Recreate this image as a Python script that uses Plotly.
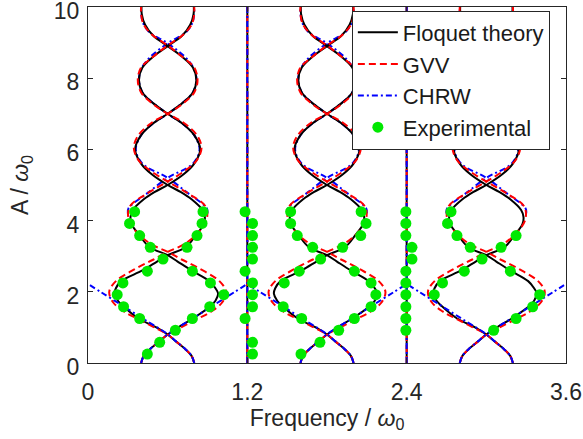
import plotly.graph_objects as go

# ---------------- data ----------------
centers = [0.6, 1.8, 3.0]          # centres of the multiphoton resonance patterns
harmonics = [1.2, 2.4]             # straight (vertical) resonance lines

# Floquet theory: signed half-width of the two crossing branches vs amplitude A
floq_amp = [0, 0.2, 0.4, 0.6, 0.8, 1.0, 1.25, 1.58, 1.75, 1.95, 2.1, 2.3, 2.6, 2.85, 3.03,
            3.25, 3.6, 3.9, 4.1, 4.3, 4.6, 4.8, 5.0, 5.3, 5.6, 6.0, 6.4, 6.7, 7.0,
            7.3, 7.6, 7.95, 8.3, 8.6, 8.9, 9.2, 9.5, 9.8, 10.0]
floq_right = [-0.2, -0.18, -0.13, -0.065, 0, 0.08, 0.19, 0.317, 0.36, 0.38, 0.36, 0.315, 0.18, 0.075, 0,
              -0.135, -0.215, -0.272, -0.28, -0.262, -0.18, -0.1, 0, 0.12, 0.2, 0.245, 0.2, 0.12, 0,
              -0.11, -0.19, -0.216, -0.19, -0.11, 0, 0.11, 0.17, 0.195, 0.197]
floq_left = [-0.2, -0.18, -0.13, -0.065, 0, 0.085, 0.22, 0.33, 0.375, 0.4, 0.39, 0.35, 0.19, 0.08, 0,
             -0.135, -0.215, -0.272, -0.28, -0.262, -0.18, -0.1, 0, 0.12, 0.2, 0.245, 0.2, 0.12, 0,
             -0.11, -0.19, -0.216, -0.19, -0.11, 0, 0.11, 0.17, 0.195, 0.197]

# GVV
gvv_amp = [0, 0.2, 0.4, 0.6, 0.8, 1.0, 1.25, 1.45, 1.7, 2.0, 2.3, 2.65, 2.9, 3.12,
           3.35, 3.7, 4.05, 4.4, 4.75, 5.1, 5.4, 5.7, 6.05, 6.4, 6.75, 7.0,
           7.3, 7.6, 7.95, 8.3, 8.6, 8.92, 9.2, 9.5, 9.8, 10.0]
gvv_off = [-0.2, -0.18, -0.13, -0.065, 0, 0.1, 0.23, 0.33, 0.41, 0.44, 0.39, 0.24, 0.11, 0,
           -0.13, -0.24, -0.295, -0.285, -0.16, 0, 0.13, 0.22, 0.255, 0.22, 0.12, 0,
           -0.12, -0.2, -0.225, -0.2, -0.11, 0, 0.11, 0.18, 0.2, 0.2]

# CHRW: low-amplitude part (lobe + straight wings) and high-amplitude part
chrw_amp_low = [0, 0.2, 0.4, 0.6, 0.81, 1.2, 1.6, 2.0, 2.22]
chrw_off_low = [-0.2, -0.18, -0.13, -0.065, 0, 0.166, 0.336, 0.506, 0.6]
chrw_amp_high = [4.2, 4.35, 4.75, 5.2, 5.6, 6.0, 6.4, 6.7, 7.0, 7.3, 7.6, 7.95, 8.25, 8.6,
                 8.98, 9.3, 9.6, 10.0]
chrw_off_high = [-0.3, -0.295, -0.16, 0, 0.19, 0.24, 0.2, 0.12, 0, -0.11, -0.19, -0.216, -0.2, -0.13,
                 0, 0.14, 0.19, 0.2]

# Experimental points
exp_freq = [0.351, 0.313, 0.389, 0.469, 0.565, 0.746, 0.821, 0.859, 0.866, 0.447, 0.263, 0.220,
            0.268, 0.389, 0.658, 0.540, 0.447, 0.786, 0.922, 1.023, 0.917, 0.786,
            1.183, 1.239, 1.239, 1.239, 1.239, 1.183, 1.239, 1.239, 1.239, 1.183, 1.239, 1.239,
            1.526, 1.526, 1.576, 1.692, 1.752, 1.918, 2.054, 2.094, 2.057, 1.591, 1.478, 1.470,
            1.609, 1.888, 1.747, 1.604, 2.006, 2.132, 2.168, 2.132, 2.006,
            2.394, 2.394, 2.394, 2.44, 2.44, 2.394, 2.394, 2.394, 2.394, 2.394, 2.394,
            2.734, 2.708, 2.779, 2.879, 2.968, 3.111, 3.224, 2.834, 2.670, 2.608, 3.181, 3.402,
            3.349, 3.224, 3.055]
exp_amp = [4.25, 3.92, 3.58, 3.25, 2.92, 3.25, 3.58, 3.92, 4.25, 2.58, 2.25, 1.92,
           1.58, 1.25, 0.92, 0.58, 0.25, 2.58, 2.25, 1.92, 1.58, 1.25,
           4.25, 3.92, 3.58, 3.25, 2.92, 2.58, 2.25, 1.92, 1.58, 1.25, 0.58, 0.25,
           4.25, 3.92, 3.58, 3.25, 2.92, 3.25, 3.58, 3.92, 4.25, 2.58, 2.25, 1.58,
           1.25, 0.92, 0.58, 0.25, 2.58, 2.25, 1.92, 1.58, 1.25,
           4.25, 3.92, 3.58, 3.25, 2.92, 2.58, 2.25, 1.92, 1.58, 1.25, 0.92,
           4.25, 3.92, 3.58, 3.25, 2.92, 3.25, 3.58, 2.58, 2.25, 1.92, 2.58, 1.92,
           1.58, 1.25, 0.92]

x_ticks = [0, 1.2, 2.4, 3.6]
x_ticktext = ["0", "1.2", "2.4", "3.6"]
y_ticks = [0, 2, 4, 6, 8, 10]


# ---------------- helpers ----------------
def build(amps, off_plus, off_minus, with_vertical=False, amp_span=None):
    xs, ys = [], []
    for c in centers:
        xs += [c + o for o in off_plus] + [None]
        ys += list(amps) + [None]
        xs += [c - o for o in off_minus] + [None]
        ys += list(amps) + [None]
    if with_vertical:
        for h in harmonics:
            xs += [h, h, None]
            ys += [amp_span[0], amp_span[1], None]
    return xs, ys


span = (floq_amp[0], floq_amp[-1])

fig = go.Figure()

# CHRW high-amplitude part (underneath the Floquet curve)
x, y = build(chrw_amp_high, chrw_off_high, chrw_off_high)
fig.add_trace(go.Scatter(x=x, y=y, mode="lines", showlegend=False, hoverinfo="skip",
                         line=dict(color="#0000ff", width=2, dash="6px,3px,2px,3px", shape="spline")))

# Floquet theory
x, y = build(floq_amp, floq_right, floq_left, True, span)
fig.add_trace(go.Scatter(x=x, y=y, mode="lines", name="Floquet theory",
                         line=dict(color="#000000", width=2, shape="spline")))

# GVV
x, y = build(gvv_amp, gvv_off, gvv_off, True, span)
fig.add_trace(go.Scatter(x=x, y=y, mode="lines", name="GVV",
                         line=dict(color="#ff0000", width=2, dash="7px,4px", shape="spline")))

# CHRW low-amplitude part + vertical lines
x, y = build(chrw_amp_low, chrw_off_low, chrw_off_low, True, span)
fig.add_trace(go.Scatter(x=x, y=y, mode="lines", name="CHRW",
                         line=dict(color="#0000ff", width=2, dash="6px,3px,2px,3px", shape="spline")))

# Experimental
fig.add_trace(go.Scatter(x=exp_freq, y=exp_amp, mode="markers", name="Experimental",
                         marker=dict(color="#00e800", size=11, line=dict(width=0))))

axis_color = "#262626"
fig.update_layout(
    width=583, height=439,
    margin=dict(l=88, r=17, t=7, b=76),
    paper_bgcolor="white", plot_bgcolor="white",
    font=dict(family="Liberation Sans, Arial, sans-serif", size=23, color=axis_color),
    legend=dict(x=0.552, y=0.99, xanchor="left", yanchor="top",
                bgcolor="white", bordercolor=axis_color, borderwidth=1,
                font=dict(size=22, color="#1a1a1a"), tracegroupgap=0, itemwidth=40),
    xaxis=dict(range=[0, 3.6], tickvals=x_ticks, ticktext=x_ticktext,
               ticks="inside", ticklen=5, tickcolor=axis_color, mirror="ticks",
               showline=True, linecolor=axis_color, linewidth=1,
               showgrid=False, zeroline=False, ticklabelstandoff=8, automargin=False,
               ticklabeloverflow="allow",
               title=dict(text="Frequency / <i>ω</i><sub>0</sub>", standoff=0,
                          font=dict(size=23))),
    yaxis=dict(range=[0, 10], tickvals=y_ticks,
               ticks="inside", ticklen=5, tickcolor=axis_color, mirror="ticks",
               showline=True, linecolor=axis_color, linewidth=1,
               showgrid=False, zeroline=False, ticklabelstandoff=3, automargin=False,
               ticklabeloverflow="allow", ticklabelshift=4,
               title=dict(text="A / <i>ω</i><sub>0</sub>", standoff=18,
                          font=dict(size=23))),
)

fig.write_html("out.html", config={"displayModeBar": False},
               post_script="document.body.style.margin='0';")
